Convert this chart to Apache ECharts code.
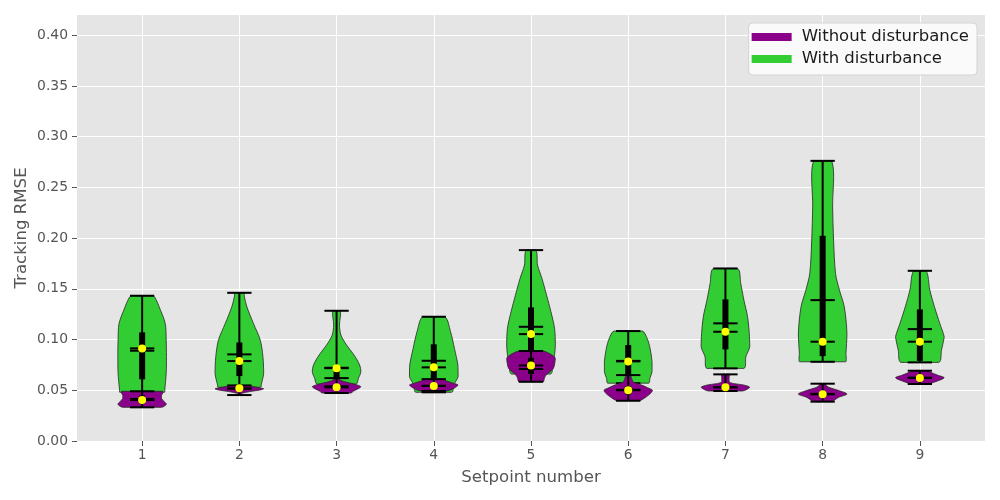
<!DOCTYPE html>
<html lang="en">
<head>
    <meta charset="UTF-8">
    <title>Tracking RMSE</title>
    <script src="https://cdn.jsdelivr.net/npm/echarts@6.0.0/dist/echarts.min.js"></script>
    <style>
        html, body { margin: 0; padding: 0; background: #fff; }
        #chart { width: 1000px; height: 500px; }
    </style>
</head>
<body>
<div id="chart"></div>
<script>
    // setpoints on the x axis
    const setpoints = [1, 2, 3, 4, 5, 6, 7, 8, 9];
    const xTicks = [1, 2, 3, 4, 5, 6, 7, 8, 9];
    const yTicks = [0, 0.05, 0.10, 0.15, 0.20, 0.25, 0.30, 0.35, 0.40];

    // "With disturbance" (green) statistics
    const withMin    = [0.048, 0.053, 0.056, 0.048, 0.066, 0.057, 0.0716, 0.0781, 0.0775];
    const withMax    = [0.1432, 0.1461, 0.1284, 0.1225, 0.1882, 0.1084, 0.1701, 0.2762, 0.1678];
    const withQ1     = [0.0608, 0.064, 0.0584, 0.0584, 0.0897, 0.065, 0.0903, 0.0837, 0.079];
    const withQ3     = [0.1071, 0.0972, 0.0726, 0.0953, 0.1317, 0.0946, 0.1396, 0.2023, 0.1297];
    const withMedian = [0.0913, 0.0788, 0.0718, 0.0726, 0.1054, 0.0785, 0.1077, 0.0979, 0.0979];
    const withMean   = [0.089, 0.0854, 0.0722, 0.0791, 0.1126, 0.079, 0.116, 0.1389, 0.1103];
    // density outline: [value, relative half width]
    const withShape = [
        [[0.048, 0.92], [0.0502, 0.93], [0.0667, 0.99], [0.0831, 1.0], [0.0995, 0.99], [0.1159, 0.95], [0.1323, 0.70], [0.138, 0.6], [0.1432, 0.45]],
        [[0.053, 0.88], [0.0553, 0.9], [0.0667, 1.0], [0.0831, 0.97], [0.0995, 0.86], [0.1159, 0.58], [0.1323, 0.31], [0.143, 0.2], [0.1461, 0.19]],
        [[0.056, 0.8], [0.0617, 0.9], [0.0683, 1.0], [0.0749, 0.95], [0.0847, 0.72], [0.0946, 0.41], [0.1044, 0.18], [0.1143, 0.12], [0.1284, 0.15]],
        [[0.048, 0.74], [0.0552, 0.82], [0.0634, 1.0], [0.0749, 0.99], [0.0913, 0.85], [0.1077, 0.69], [0.1225, 0.45]],
        [[0.066, 0.8], [0.075, 0.9], [0.085, 0.97], [0.0946, 1.0], [0.111, 0.97], [0.1274, 0.82], [0.1438, 0.64], [0.1603, 0.45], [0.1734, 0.27], [0.1882, 0.2]],
        [[0.057, 0.84], [0.0617, 0.89], [0.0683, 0.98], [0.0782, 0.98], [0.0913, 0.9], [0.1011, 0.78], [0.1084, 0.58]],
        [[0.0716, 0.76], [0.0831, 0.84], [0.0929, 1.0], [0.1061, 0.98], [0.1225, 0.91], [0.1389, 0.76], [0.1553, 0.63], [0.1701, 0.5]],
        [[0.0781, 0.95], [0.0864, 0.96], [0.1061, 1.0], [0.1323, 0.89], [0.1488, 0.69], [0.1652, 0.53], [0.198, 0.45], [0.2308, 0.41], [0.2762, 0.37]],
        [[0.0775, 0.78], [0.0897, 0.89], [0.0995, 0.98], [0.103, 1.0], [0.1159, 0.82], [0.1323, 0.6], [0.1488, 0.41], [0.1678, 0.25]]
    ];

    // "Without disturbance" (purple) statistics
    const withoutMin    = [0.0332, 0.0453, 0.0473, 0.0493, 0.0584, 0.0397, 0.0493, 0.0388, 0.0562];
    const withoutMax    = [0.049, 0.0548, 0.062, 0.061, 0.0887, 0.065, 0.0657, 0.0565, 0.0693];
    const withoutQ1     = [0.037, 0.050, 0.051, 0.052, 0.066, 0.046, 0.051, 0.043, 0.060];
    const withoutQ3     = [0.045, 0.053, 0.056, 0.057, 0.082, 0.054, 0.055, 0.049, 0.065];
    const withoutMedian = [0.0404, 0.0519, 0.0529, 0.0542, 0.0745, 0.050, 0.0529, 0.046, 0.0621];
    const withoutMean   = [0.0415, 0.0515, 0.054, 0.0545, 0.071, 0.0505, 0.053, 0.0465, 0.0625];
    const withoutShape = [
        [[0.0332, 0.8], [0.035, 0.95], [0.0365, 1.0], [0.039, 0.9], [0.042, 0.8], [0.045, 0.8], [0.0475, 0.85], [0.049, 0.85]],
        [[0.0453, 0.03], [0.047, 0.1], [0.0488, 0.45], [0.0505, 0.9], [0.0515, 1.0], [0.053, 0.7], [0.0548, 0.3]],
        [[0.0473, 0.6], [0.049, 0.68], [0.051, 0.85], [0.0535, 1.0], [0.056, 0.75], [0.058, 0.4], [0.060, 0.15], [0.062, 0.05]],
        [[0.0493, 0.55], [0.051, 0.75], [0.053, 0.9], [0.0552, 1.0], [0.057, 0.8], [0.059, 0.55], [0.061, 0.3]],
        [[0.0584, 0.5], [0.0617, 0.55], [0.065, 0.62], [0.0716, 0.92], [0.077, 0.98], [0.0815, 1.0], [0.085, 0.85], [0.0887, 0.5]],
        [[0.0397, 0.45], [0.0437, 0.75], [0.047, 0.92], [0.050, 1.0], [0.0525, 0.8], [0.0552, 0.55], [0.058, 0.22], [0.061, 0.15], [0.065, 0.08]],
        [[0.0493, 0.7], [0.0505, 0.85], [0.053, 1.0], [0.0552, 0.75], [0.0565, 0.38], [0.058, 0.17], [0.062, 0.15], [0.0657, 0.15]],
        [[0.0388, 0.4], [0.0397, 0.45], [0.043, 0.65], [0.0463, 1.0], [0.0496, 0.69], [0.0525, 0.3], [0.0545, 0.15], [0.0565, 0.1]],
        [[0.0562, 0.3], [0.0594, 0.75], [0.0624, 1.0], [0.065, 0.72], [0.0682, 0.4], [0.0693, 0.38]]
    ];

    function violinRenderer(stats, fill) {
        return function (params, api) {
            const i = params.dataIndex;
            const x = setpoints[i];
            const half = api.size([0.25, 0])[0];
            const cap = api.size([0.125, 0])[0];
            const left = [], right = [];
            stats.shape[i].forEach(function (p) {
                const c = api.coord([x, p[0]]);
                left.push([c[0] - p[1] * half, c[1]]);
                right.push([c[0] + p[1] * half, c[1]]);
            });
            const poly = left.concat(right.reverse());
            const cx = api.coord([x, 0])[0];
            const yOf = function (v) { return api.coord([x, v])[1]; };
            const yMin = yOf(stats.min[i]), yMax = yOf(stats.max[i]);
            const yQ1 = yOf(stats.q1[i]), yQ3 = yOf(stats.q3[i]);
            const yMed = yOf(stats.median[i]), yMean = yOf(stats.mean[i]);
            // keep the smoothed outline inside the violin's own box
            const bx = poly.map(function (p) { return p[0]; });
            const by = poly.map(function (p) { return p[1]; });
            const bounds = [
                [Math.min.apply(null, bx), Math.min.apply(null, by)],
                [Math.max.apply(null, bx), Math.max.apply(null, by)]
            ];
            const hline = function (y) {
                return {
                    type: 'line',
                    shape: { x1: cx - cap, y1: y, x2: cx + cap, y2: y },
                    style: { stroke: '#000', lineWidth: 2 }
                };
            };
            return {
                type: 'group',
                children: [
                    {
                        type: 'polygon',
                        shape: { points: poly, smooth: 0.3, smoothConstraint: bounds },
                        style: { fill: fill, stroke: 'rgba(40,40,40,0.8)', lineWidth: 1 }
                    },
                    {
                        type: 'line',
                        shape: { x1: cx, y1: yMin, x2: cx, y2: yMax },
                        style: { stroke: '#000', lineWidth: 2 }
                    },
                    {
                        type: 'rect',
                        shape: { x: cx - 3, y: yQ3, width: 6, height: yQ1 - yQ3 },
                        style: { fill: '#000' }
                    },
                    hline(yMin),
                    hline(yMax),
                    hline(yMean),
                    hline(yMed),
                    {
                        type: 'circle',
                        shape: { cx: cx, cy: yMed, r: 4 },
                        style: { fill: '#ffff00' }
                    }
                ]
            };
        };
    }

    const withStats = { min: withMin, max: withMax, q1: withQ1, q3: withQ3, median: withMedian, mean: withMean, shape: withShape };
    const withoutStats = { min: withoutMin, max: withoutMax, q1: withoutQ1, q3: withoutQ3, median: withoutMedian, mean: withoutMean, shape: withoutShape };

    const tickText = { color: '#555', fontSize: 13.9, fontFamily: 'DejaVu Sans' };
    const nameText = { color: '#555', fontSize: 16.6, fontFamily: 'DejaVu Sans' };

    echarts.init(document.getElementById('chart')).setOption({
        animation: false,
        grid: {
            left: 77, right: 15, top: 15, bottom: 59,
            show: true, backgroundColor: '#e5e5e5', borderWidth: 0
        },
        legend: {
            data: ['Without disturbance', 'With disturbance'],
            orient: 'vertical',
            right: 23, top: 23,
            icon: 'rect',
            itemWidth: 40, itemHeight: 8, itemGap: 2,
            padding: [4, 8, 6, 3],
            backgroundColor: '#fafafa',
            borderColor: '#d4d4d4', borderWidth: 1, borderRadius: 4,
            textStyle: {
                color: '#1a1a1a', fontSize: 16.5, fontFamily: 'DejaVu Sans',
                lineHeight: 20, padding: [0, 0, 0, 5]
            }
        },
        xAxis: {
            type: 'value',
            min: 0.33, max: 9.67,
            name: 'Setpoint number',
            nameLocation: 'middle', nameGap: 28,
            nameTextStyle: nameText,
            axisLine: { show: false },
            axisTick: { show: true, length: 5, lineStyle: { color: '#555' }, customValues: xTicks },
            axisLabel: Object.assign({ margin: 7, customValues: xTicks, formatter: function (v) { return String(v); } }, tickText),
            splitLine: { show: true, lineStyle: { color: '#fff', width: 1 } }
        },
        yAxis: {
            type: 'value',
            min: 0, max: 0.42,
            name: 'Tracking RMSE',
            nameLocation: 'middle', nameGap: 47,
            nameMoveOverlap: false,
            nameTextStyle: nameText,
            axisLine: { show: false },
            axisTick: { show: true, length: 5, lineStyle: { color: '#555' }, customValues: yTicks },
            axisLabel: Object.assign({ margin: 9, customValues: yTicks, formatter: function (v) { return v.toFixed(2); } }, tickText),
            splitLine: { show: true, lineStyle: { color: '#fff', width: 1 } }
        },
        series: [
            {
                name: 'With disturbance',
                type: 'custom',
                itemStyle: { color: '#32cd32' },
                renderItem: violinRenderer(withStats, '#32cd32'),
                encode: { x: 0, y: [1, 2] },
                data: setpoints.map(function (s, i) { return [s, withMin[i], withMax[i]]; })
            },
            {
                name: 'Without disturbance',
                type: 'custom',
                itemStyle: { color: '#8b008b' },
                renderItem: violinRenderer(withoutStats, '#8b008b'),
                encode: { x: 0, y: [1, 2] },
                data: setpoints.map(function (s, i) { return [s, withoutMin[i], withoutMax[i]]; })
            }
        ]
    });
</script>
</body>
</html>
